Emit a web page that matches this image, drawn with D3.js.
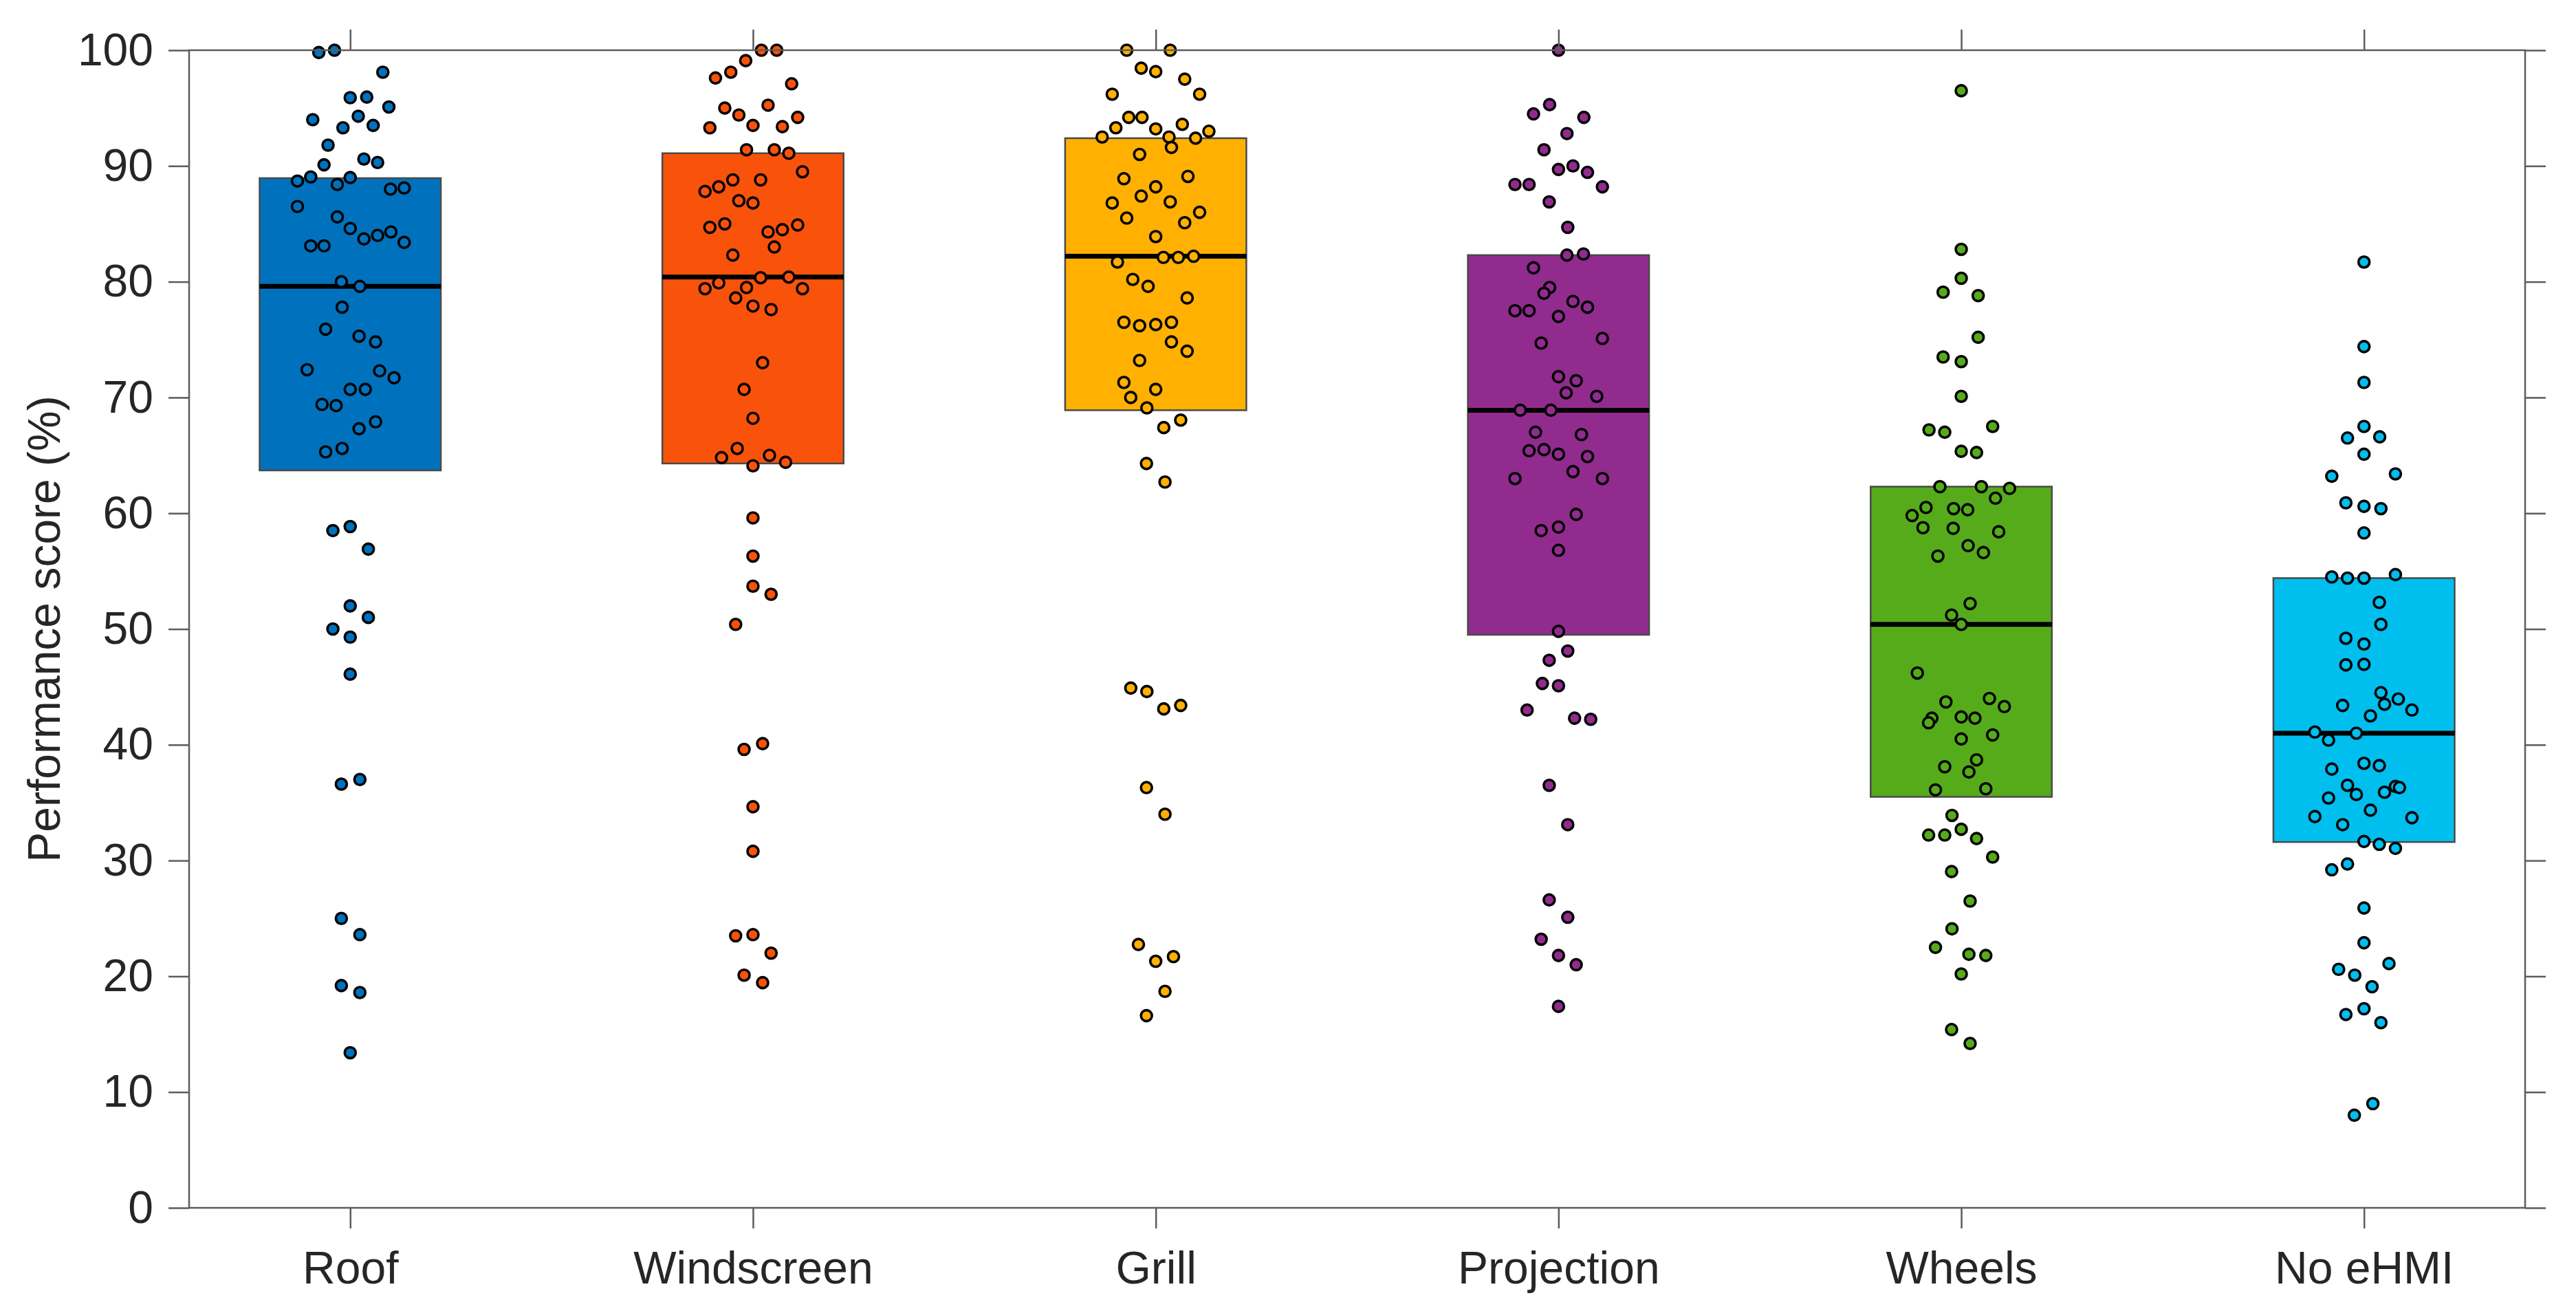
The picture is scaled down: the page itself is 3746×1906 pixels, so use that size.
<!DOCTYPE html>
<html>
<head>
<meta charset="utf-8">
<script src="https://cdn.jsdelivr.net/npm/d3@7"></script>
<style>
  html, body { margin: 0; padding: 0; background: #ffffff; }
  svg { display: block; }
</style>
</head>
<body>
<svg id="chart" width="3746" height="1906"></svg>
<script>
// ---------------- DATA ----------------
const categories = ["Roof", "Windscreen", "Grill", "Projection", "Wheels", "No eHMI"];
const yTicks = [0, 10, 20, 30, 40, 50, 60, 70, 80, 90, 100];
const yLabel = "Performance score (%)";

// box statistics (first quartile, median, third quartile)
const boxQ1 = [63.7, 64.3, 68.9, 49.5, 35.5, 31.6];
const boxMedian = [79.6, 80.4, 82.2, 68.9, 50.4, 41.0];
const boxQ3 = [88.95, 91.1, 92.4, 82.3, 62.3, 54.4];

// individual scores (%) and swarm offsets (% of category spacing)
const roofScores = [99.8,100,98.1,95.9,95.95,95.1,94.0,94.3,93.3,93.5,91.8,90.1,90.6,90.3,88.7,89.05,88.4,89.0,88.0,88.1,86.5,85.6,84.6,83.7,84.0,84.3,83.4,83.1,83.1,80.0,79.6,77.8,75.9,75.3,74.8,72.4,72.3,71.7,70.7,70.7,69.4,69.3,67.3,67.9,65.3,65.6,58.5,58.85,56.9,52.0,51.0,50.0,49.3,46.1,36.6,37.0,25.0,23.6,19.2,18.6,13.4];
const roofJitter = [-7.8,-3.9,8.1,0,4.1,9.6,-9.3,2.0,-1.8,5.7,-5.5,-6.5,3.4,6.8,-13.1,-9.8,-3.2,0,10.0,13.4,-13.1,-3.2,0,3.4,6.8,10.1,13.4,-9.8,-6.5,-2.2,2.4,-2.0,-6.1,2.2,6.3,-10.7,7.3,10.9,0,3.75,-7.0,-3.5,2.2,6.3,-6.1,-2.0,-4.3,0,4.5,0,4.5,-4.3,0,0,-2.2,2.4,-2.2,2.4,-2.2,2.4,0];

const windscreenScores = [100,100,99.1,98.1,97.6,97.1,95.0,94.4,95.25,94.2,93.3,93.5,93.4,91.4,91.4,91.1,89.5,87.8,88.2,88.8,88.8,87.0,86.8,84.7,85.0,84.3,84.5,84.9,83.0,82.3,80.35,80.4,79.9,79.4,79.5,79.4,78.6,77.9,77.6,73.0,70.7,68.2,65.6,64.8,65.0,64.4,64.1,59.6,56.3,53.7,53.0,50.4,39.6,40.1,34.65,30.8,23.5,23.6,22.0,20.1,19.45];
const windscreenJitter = [2.1,5.9,-1.8,-5.5,-9.3,9.6,-7.0,-3.5,3.75,11.1,-10.7,0,7.3,-1.6,5.3,8.9,12.3,-11.9,-8.5,-5.0,1.9,-3.5,0,-10.7,-7.0,3.75,7.3,11.1,5.3,-5.0,1.9,8.9,-8.5,-11.9,-1.6,12.3,-4.3,0,4.5,2.4,-2.2,0,-3.9,-7.8,4.1,8.1,0,0,0,0,4.5,-4.3,-2.2,2.4,0,0,-4.3,0,4.5,-2.2,2.4];

const grillScores = [100,100,98.45,98.15,97.5,96.2,96.2,94.2,94.2,93.6,93.3,93.2,93.0,92.5,92.5,92.4,91.6,91.0,88.9,89.1,88.2,87.4,86.8,86.9,85.5,86.0,85.1,83.9,81.7,82.1,82.1,82.2,80.2,79.6,78.6,76.5,76.2,76.3,76.5,74.8,74.0,73.2,71.3,70.7,70.0,69.1,68.05,67.4,64.3,62.7,44.9,44.6,43.1,43.4,36.3,34.0,22.75,21.3,21.7,18.7,16.6];
const grillJitter = [-7.2,3.6,-3.6,0,7.2,-10.8,10.9,-6.7,-3.4,6.6,-9.9,0,13.2,-13.3,3.3,9.9,3.9,-4.0,-7.9,8.0,0,-3.6,-10.8,3.6,-7.2,10.9,7.2,0,-9.5,1.9,5.6,9.4,-5.7,-1.9,7.8,-7.9,-4.0,0,3.9,3.9,7.8,-4.0,-7.9,0,-6.2,-2.2,6.2,2.0,-2.3,2.3,-6.2,-2.2,2.0,6.2,-2.3,2.3,-4.3,0,4.4,2.3,-2.3];

const projectionScores = [100,95.3,94.5,94.2,92.8,91.4,89.7,90.0,89.45,88.4,88.4,88.2,86.9,84.7,82.3,82.4,81.2,79.5,79.0,78.3,77.8,77.5,77.5,77.0,74.7,75.1,71.8,71.45,70.4,70.1,68.9,68.9,67.0,66.8,65.4,65.5,65.1,64.9,63.6,63.0,63.0,59.9,58.5,58.8,56.8,49.8,48.1,47.3,45.3,45.1,43.0,42.3,42.2,36.5,33.1,26.6,25.1,23.2,21.8,21.0,17.4];
const projectionJitter = [0,-2.2,-6.2,6.3,2.1,-3.6,0,3.6,7.2,-10.8,-7.3,10.9,-2.3,2.3,2.1,6.2,-6.2,-2.2,-3.6,3.6,7.2,-10.8,-7.3,0,-4.3,10.9,0,4.4,1.9,9.5,-9.5,-1.9,-5.7,5.7,-7.3,-3.6,0,7.2,3.6,-10.8,10.9,4.4,-4.3,0,0,0,2.3,-2.3,-4.0,0,-7.8,4.0,8.0,-2.3,2.3,-2.3,2.3,-4.3,0,4.4,0];

const wheelsScores = [96.5,82.8,80.3,79.1,78.8,75.2,73.5,73.1,70.1,67.2,67.0,67.5,65.35,65.25,62.3,62.3,62.15,61.3,60.5,60.4,60.3,59.8,58.75,58.7,58.4,57.2,56.6,56.3,52.2,51.2,50.4,46.2,43.7,44.0,43.3,42.3,41.9,42.4,42.3,40.5,40.85,38.7,38.1,37.65,36.1,36.2,33.9,32.2,32.2,32.7,31.9,30.3,29.05,26.5,24.1,22.5,21.9,21.8,20.2,15.4,14.2];
const wheelsJitter = [0,0,0,-4.5,4.2,4.2,-4.5,0,0,-8.0,-4.1,7.8,0,3.8,-5.3,5.0,12.0,8.5,-8.75,-1.9,1.6,-12.2,-9.5,-2.0,9.3,1.7,5.5,-5.8,2.2,-2.4,0,-10.9,-3.8,7.0,10.7,-7.3,-8.1,0,3.4,0,7.8,3.8,-4.1,1.9,-6.4,6.1,-2.3,-8.1,-4.1,0,3.8,7.8,-2.4,2.2,-2.3,-6.4,1.9,6.1,0,-2.4,2.2];

const noEhmiScores = [81.7,74.4,71.3,67.5,66.5,66.6,65.1,63.2,63.4,60.9,60.6,60.4,58.3,54.5,54.4,54.4,54.7,52.3,50.4,49.2,48.7,46.9,46.95,44.5,43.95,43.5,43.0,43.4,42.5,41.1,41.0,40.4,38.4,38.2,37.9,36.5,35.7,35.9,36.4,36.3,35.4,34.35,33.8,33.7,33.1,31.65,31.4,31.05,29.7,29.2,25.9,22.9,20.6,21.1,20.1,19.1,16.7,17.2,16.0,9.0,8.0];
const noEhmiJitter = [0,0,0,0,-4.1,3.9,0,-8.0,7.8,-4.5,0,4.2,0,-8.0,-4.1,0,7.8,3.8,4.2,-4.5,0,-4.5,0,4.2,8.5,5.1,11.9,-5.3,1.6,-12.2,-1.9,-8.8,0,3.8,-8.0,-4.1,-1.9,5.1,7.8,8.8,-8.8,1.6,-12.2,11.9,-5.3,0,3.8,7.8,-4.1,-8.0,0,0,-6.3,6.2,-2.3,2.0,-4.5,0,4.2,2.2,-2.4];

const colors = ["#0072BD", "#F9520B", "#FFB000", "#912B8E", "#56AB1A", "#00BEEE"];

// ---------------- LAYOUT ----------------
const svg = d3.select("#chart");
const W = 3746, H = 1906;
const plot = { left: 275, right: 3672, top: 73, bottom: 1756 };
const FONT = "'Liberation Sans', Arial, Helvetica, sans-serif";
const FONT_SIZE = 66;
const TEXT = "#262626";
const AXIS = "#5c5c5c";

const x = d3.scaleLinear().domain([0.6, 6.4]).range([plot.left, plot.right]);
const y = d3.scaleLinear().domain([0, 100]).range([plot.bottom, plot.top]);
const boxHalf = 0.225;

const groups = [
  { scores: roofScores, jitter: roofJitter },
  { scores: windscreenScores, jitter: windscreenJitter },
  { scores: grillScores, jitter: grillJitter },
  { scores: projectionScores, jitter: projectionJitter },
  { scores: wheelsScores, jitter: wheelsJitter },
  { scores: noEhmiScores, jitter: noEhmiJitter }
];

svg.append("rect").attr("width", W).attr("height", H).attr("fill", "#ffffff");

// boxes
const boxData = categories.map((c, i) => ({ i, q1: boxQ1[i], med: boxMedian[i], q3: boxQ3[i] }));
const gBox = svg.append("g");
gBox.selectAll("rect.box").data(boxData).join("rect")
  .attr("class", "box")
  .attr("x", d => x(d.i + 1 - boxHalf))
  .attr("width", d => x(d.i + 1 + boxHalf) - x(d.i + 1 - boxHalf))
  .attr("y", d => y(d.q3))
  .attr("height", d => y(d.q1) - y(d.q3))
  .attr("fill", d => colors[d.i])
  .attr("stroke", "#4a4a4a")
  .attr("stroke-width", 2.5);
gBox.selectAll("line.med").data(boxData).join("line")
  .attr("class", "med")
  .attr("x1", d => x(d.i + 1 - boxHalf))
  .attr("x2", d => x(d.i + 1 + boxHalf))
  .attr("y1", d => y(d.med))
  .attr("y2", d => y(d.med))
  .attr("stroke", "#000000")
  .attr("stroke-width", 7);

// points
const pts = [];
groups.forEach((g, i) => g.scores.forEach((v, k) => pts.push({ i, v, j: g.jitter[k] })));
svg.append("g").selectAll("circle").data(pts).join("circle")
  .attr("cx", d => x(d.i + 1 + d.j / 100))
  .attr("cy", d => y(d.v))
  .attr("r", 8)
  .attr("fill", d => colors[d.i])
  .attr("stroke", "#000000")
  .attr("stroke-width", 3.6);

// axes
const TICK = 30;
const gx = svg.append("g").attr("transform", `translate(0,${plot.bottom})`)
  .call(d3.axisBottom(x).tickValues(d3.range(1, categories.length + 1))
    .tickFormat(d => categories[d - 1]).tickSizeInner(TICK).tickSizeOuter(0).tickPadding(33));
const gxTop = svg.append("g").attr("transform", `translate(0,${plot.top})`)
  .call(d3.axisTop(x).tickValues(d3.range(1, categories.length + 1))
    .tickFormat("").tickSizeInner(TICK).tickSizeOuter(0));
const gy = svg.append("g").attr("transform", `translate(${plot.left},0)`)
  .call(d3.axisLeft(y).tickValues(yTicks).tickSizeInner(TICK).tickSizeOuter(0).tickPadding(22));
const gyR = svg.append("g").attr("transform", `translate(${plot.right},0)`)
  .call(d3.axisRight(y).tickValues(yTicks).tickFormat("").tickSizeInner(TICK).tickSizeOuter(0));

[gx, gxTop, gy, gyR].forEach(g => {
  g.select(".domain").remove();
  g.selectAll(".tick line").attr("stroke", AXIS).attr("stroke-width", 2.5);
  g.selectAll("text").attr("font-family", FONT).attr("font-size", FONT_SIZE).attr("fill", TEXT);
});

// frame
svg.append("rect")
  .attr("x", plot.left).attr("y", plot.top)
  .attr("width", plot.right - plot.left).attr("height", plot.bottom - plot.top)
  .attr("fill", "none").attr("stroke", AXIS).attr("stroke-width", 2.5);

// y label
svg.append("text")
  .attr("transform", `translate(64,${(plot.top + plot.bottom) / 2}) rotate(-90)`)
  .attr("text-anchor", "middle")
  .attr("dominant-baseline", "central")
  .attr("font-family", FONT).attr("font-size", FONT_SIZE).attr("fill", TEXT)
  .text(yLabel);
</script>
</body>
</html>
